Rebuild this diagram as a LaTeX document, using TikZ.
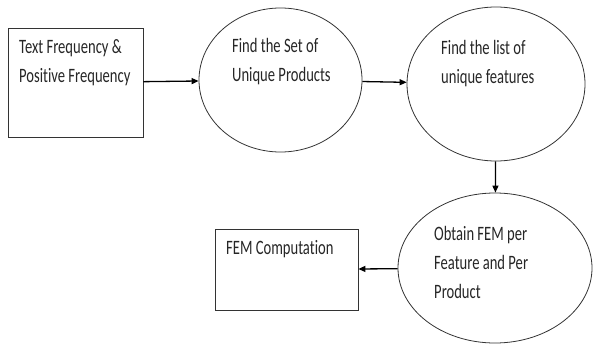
\documentclass[tikz,border=0pt]{standalone}
\usepackage{fontspec}
\usepackage{graphicx}
\setmainfont{Carlito}[Ligatures=NoCommon]
\usetikzlibrary{arrows.meta, positioning, shapes.geometric}

% taller letters, as in the scanned figure
\newcommand{\tallline}[1]{\scalebox{1}[1.4]{#1}}

\begin{document}
\begin{tikzpicture}[
    x=1pt, y=-1pt,
    box/.style={rectangle, draw=black!80, line width=0.8pt, inner sep=0pt},
    oval/.style={ellipse, draw=black!80, line width=0.8pt, inner sep=0pt},
    txt/.style={anchor=north west, align=left, inner sep=0pt, font=\fontsize{14.6}{29}\selectfont, text=black!85},
    flow/.style={-{Triangle[length=7pt, width=6pt]}, line width=1.3pt}
    ]
    \useasboundingbox (0,0) rectangle (594,345);

    % Input box
    \node[box, minimum width=135pt, minimum height=109pt] (freq) at (75.5,82.5) {};
    \node[txt] (freqtext) at (19,39) {\tallline{Text Frequency \&}\\\tallline{Positive Frequency}};

    % Unique products
    \node[oval, minimum width=163pt, minimum height=144pt] (products) at (280.5,80) {};
    \node[txt] (productstext) at (232,38.5) {\tallline{Find the Set of}\\\tallline{Unique Products}};
    \draw[flow] (freq) -- (products);

    % Unique features
    \node[oval, minimum width=178pt, minimum height=154pt] (features) at (496,84) {};
    \node[txt] (featurestext) at (441,40) {\tallline{Find the list of}\\\tallline{unique features}};
    \draw[flow] (products) -- (features);

    % FEM per feature
    \node[oval, minimum width=194pt, minimum height=150pt] (fem) at (495,268) {};
    \node[txt] (femtext) at (434,226) {\tallline{Obtain FEM per}\\\tallline{Feature and Per}\\\tallline{Product}};
    \draw[flow] (features) -- (fem);

    % FEM computation
    \node[box, minimum width=143pt, minimum height=81pt] (comp) at (286.5,269.5) {};
    \node[txt] (comptext) at (226,240) {\tallline{FEM Computation}};
    \draw[flow] (fem) -- (comp);

\end{tikzpicture}
\end{document}
